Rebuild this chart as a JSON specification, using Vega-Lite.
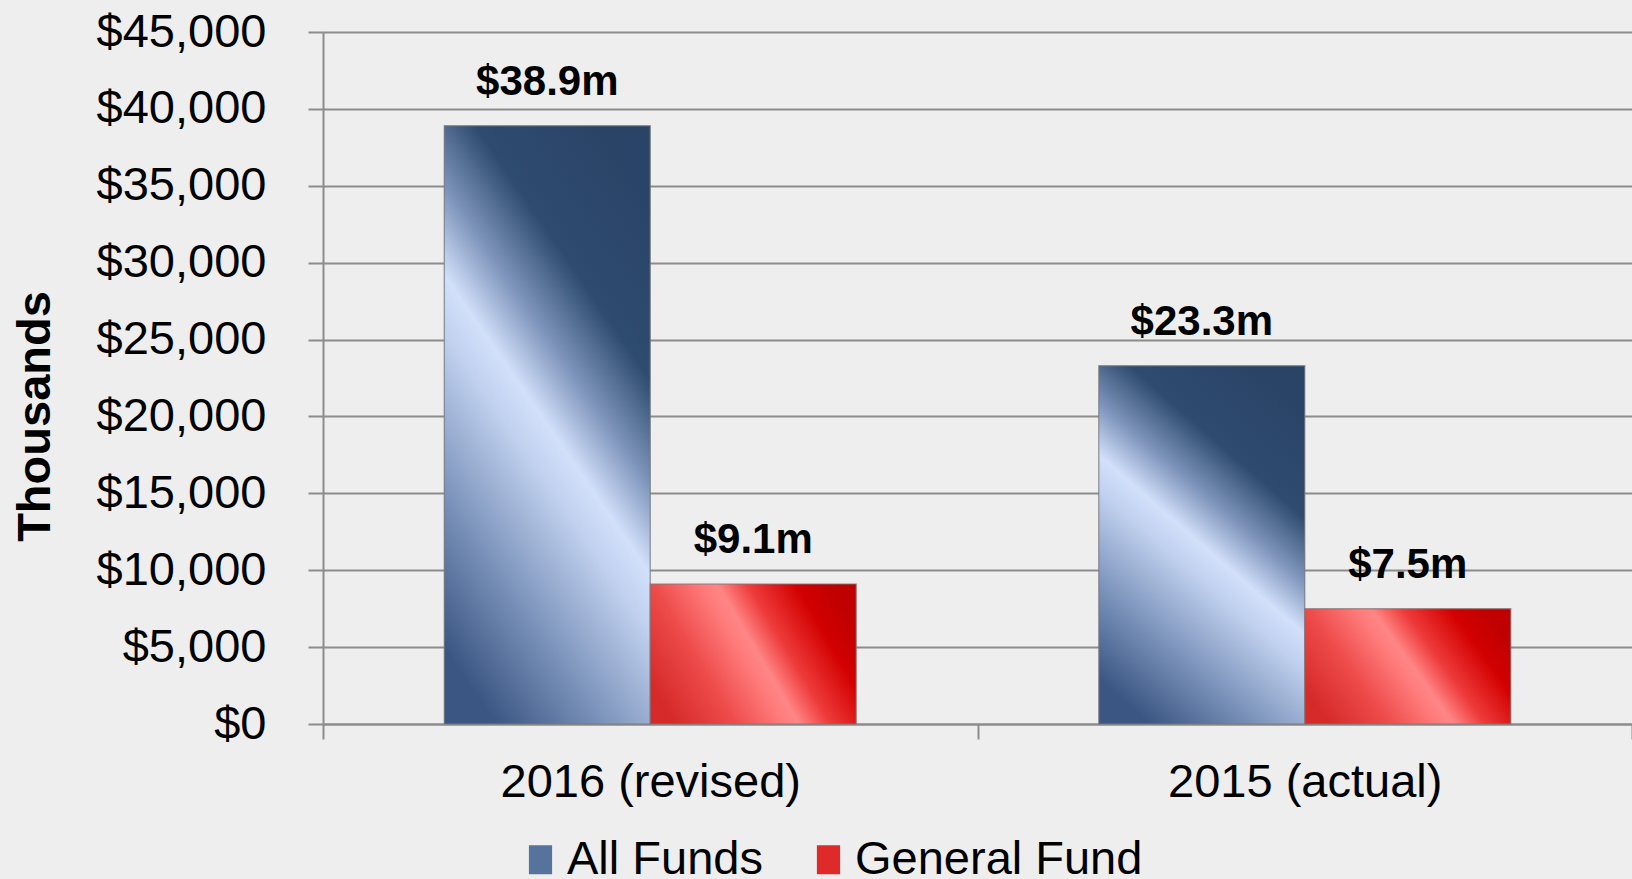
{
  "$schema": "https://vega.github.io/schema/vega-lite/v6.json",
  "width": 1309,
  "height": 692,
  "autosize": {"type": "none"},
  "padding": {"left": 323, "top": 32, "right": 0, "bottom": 155},
  "background": "#eeeeee",
  "config": {"view": {"stroke": null}, "font": "Liberation Sans"},
  "data": {
    "values": [
      {"year": "2016 (revised)", "series": "All Funds", "value": 38900, "label": "$38.9m"},
      {"year": "2016 (revised)", "series": "General Fund", "value": 9100, "label": "$9.1m"},
      {"year": "2015 (actual)", "series": "All Funds", "value": 23300, "label": "$23.3m"},
      {"year": "2015 (actual)", "series": "General Fund", "value": 7500, "label": "$7.5m"}
    ]
  },
  "encoding": {
    "x": {
      "field": "year",
      "type": "nominal",
      "sort": ["2016 (revised)", "2015 (actual)"],
      "scale": {"paddingInner": 0, "paddingOuter": 0},
      "axis": {
        "title": null,
        "labelAngle": 0,
        "labelFontSize": 47,
        "labelLimit": 0,
        "labelColor": "#000000",
        "labelPadding": 20,
        "tickBand": "extent",
        "tickSize": 15,
        "tickColor": "#8c8c8c",
        "tickWidth": 2,
        "domainColor": "#8c8c8c",
        "domainWidth": 2
      }
    },
    "xOffset": {
      "field": "series",
      "type": "nominal",
      "scale": {"paddingInner": 0, "paddingOuter": 0.589}
    },
    "y": {
      "field": "value",
      "type": "quantitative",
      "scale": {"domain": [0, 45000]},
      "axis": {
        "title": "Thousands",
        "values": [0, 5000, 10000, 15000, 20000, 25000, 30000, 35000, 40000, 45000],
        "format": "$,.0f",
        "grid": true,
        "gridColor": "#8c8c8c",
        "gridWidth": 2,
        "domain": true,
        "domainColor": "#8c8c8c",
        "domainWidth": 2,
        "ticks": true,
        "tickSize": 15,
        "tickColor": "#8c8c8c",
        "tickWidth": 2,
        "labelFontSize": 47,
        "labelLimit": 0,
        "labelColor": "#000000",
        "labelPadding": 42,
        "titleFontSize": 47,
        "titleFontWeight": "bold",
        "titleColor": "#000000",
        "titleX": -288,
        "titleY": 384,
        "titleAngle": -90,
        "titleAlign": "center",
        "titleBaseline": "middle"
      }
    }
  },
  "layer": [
    {
      "mark": {"type": "bar"},
      "encoding": {
        "color": {
          "field": "series",
          "type": "nominal",
          "scale": {"domain": ["All Funds", "General Fund"], "range": ["#56739e", "#e02a2a"]},
          "legend": {
            "title": null,
            "orient": "none",
            "direction": "horizontal",
            "legendX": 194,
            "legendY": 804,
            "padding": 0,
            "labelFontSize": 47,
            "labelLimit": 0,
            "labelColor": "#000000",
            "labelOffset": 3,
            "columnPadding": 42,
            "symbolType": "M-0.8,-1H0.8V1H-0.8Z",
            "symbolSize": 841,
            "symbolStrokeWidth": 0,
            "symbolOpacity": 1
          }
        }
      }
    },
    {
      "mark": {"type": "bar", "stroke": "#7a7a7a", "strokeOpacity": 0.6, "strokeWidth": 1.5},
      "encoding": {
        "fill": {
          "condition": {
            "test": "datum.series === 'All Funds'",
            "value": {"gradient": "linear", "x1": 0.25, "y1": 1, "x2": 0.75, "y2": 0, "stops": [{"offset": 0, "color": "#3b5683"}, {"offset": 0.2, "color": "#7890b8"}, {"offset": 0.42, "color": "#c0d0ee"}, {"offset": 0.5, "color": "#d2e0fa"}, {"offset": 0.62, "color": "#7d93ba"}, {"offset": 0.76, "color": "#2e4b70"}, {"offset": 1, "color": "#2a4467"}]}
          },
          "value": {"gradient": "linear", "x1": 0, "y1": 0.7, "x2": 1, "y2": 0.3, "stops": [{"offset": 0, "color": "#d62a2a"}, {"offset": 0.25, "color": "#ee4b4b"}, {"offset": 0.45, "color": "#ff7a7a"}, {"offset": 0.52, "color": "#ff8686"}, {"offset": 0.65, "color": "#ee3b3b"}, {"offset": 0.85, "color": "#d30000"}, {"offset": 1, "color": "#c00000"}]}
        }
      }
    },
    {
      "mark": {"type": "text", "fontSize": 42, "fontWeight": "bold", "baseline": "alphabetic", "dy": -31, "color": "#000000"},
      "encoding": {"text": {"field": "label"}}
    }
  ]
}
